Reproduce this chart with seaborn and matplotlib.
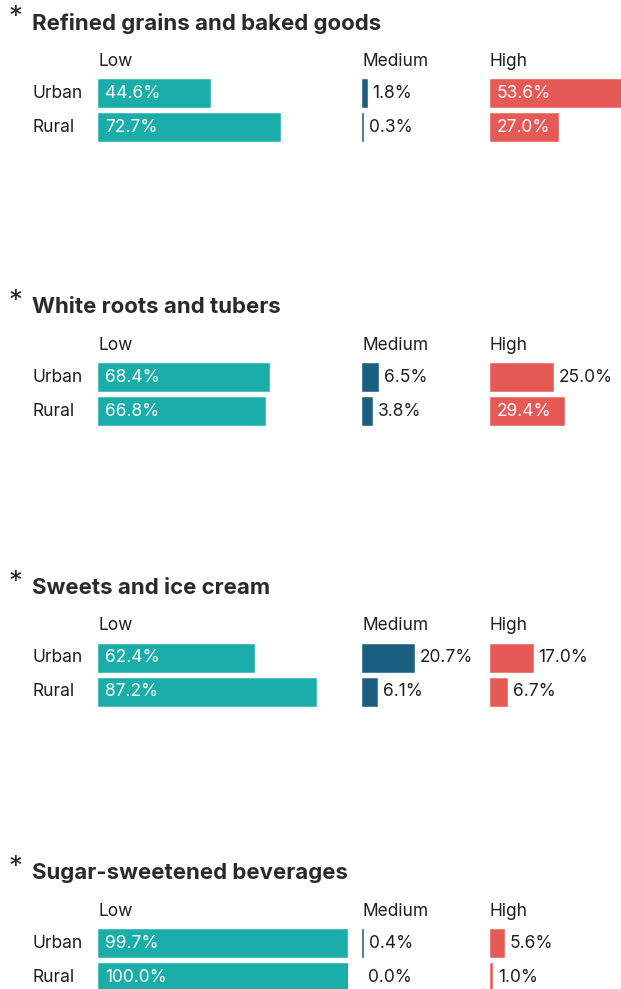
import matplotlib
matplotlib.use('Agg')
from matplotlib import pyplot as plt
import pandas as pd
import seaborn as sns

foods = ['Refined grains and baked goods', 'White roots and tubers',
         'Sweets and ice cream', 'Sugar-sweetened beverages']
areas = ['Urban', 'Rural']
levels = ['Low', 'Medium', 'High']

low_urban = [44.6, 68.4, 62.4, 99.7]
low_rural = [72.7, 66.8, 87.2, 100.0]
med_urban = [1.8, 6.5, 20.7, 0.4]
med_rural = [0.3, 3.8, 6.1, 0.0]
high_urban = [53.6, 25.0, 17.0, 5.6]
high_rural = [27.0, 29.4, 6.7, 1.0]

rows = []
for i, food in enumerate(foods):
    for level, urb, rur in [('Low', low_urban, low_rural),
                            ('Medium', med_urban, med_rural),
                            ('High', high_urban, high_rural)]:
        rows.append((food, level, 'Urban', urb[i]))
        rows.append((food, level, 'Rural', rur[i]))
df = pd.DataFrame(rows, columns=['food', 'level', 'area', 'pct'])

sns.set_style('white')
plt.rcParams['font.family'] = ['Inter', 'DejaVu Sans']

colors = {'Low': '#1aada9', 'Medium': '#1a5e80', 'High': '#e65a56'}
dark = '#1e1e1e'
fs = 12.5

W, H = 621, 989
px = 0.72  # points per pixel at dpi 100
col_left = {'Low': 98, 'Medium': 362, 'High': 490}
urban_y = [93, 377, 658, 943]   # pixel centre of the Urban bar per panel
row_gap = 34

fig = plt.figure(figsize=(W / 100, H / 100), dpi=100)

for i, food in enumerate(foods):
    yc = urban_y[i]
    top = yc - row_gap / 2
    for level in levels:
        ax = fig.add_axes([col_left[level] / W, 1 - (top + 2 * row_gap) / H,
                           250 / W, 2 * row_gap / H])
        sub = df[(df['food'] == food) & (df['level'] == level)]
        sns.barplot(data=sub, x='pct', y='area', order=areas, color=colors[level],
                    width=28 / row_gap, saturation=1, ax=ax, orient='h',
                    edgecolor=colors[level], linewidth=0.4)
        # no hairline for empty bars
        for p in ax.patches:
            if p.get_width() == 0:
                p.set_linewidth(0)
        ax.set_xlim(0, 100)
        ax.set_ylim(1.5, -0.5)
        ax.axis('off')

        for j, area in enumerate(areas):
            v = sub.loc[sub['area'] == area, 'pct'].iloc[0]
            if v >= 26:
                ax.annotate(f'{v:.1f}%', xy=(0, j), xytext=(7 * px, 0),
                            textcoords='offset points', ha='left', va='center',
                            color='white', fontsize=fs)
            else:
                ax.annotate(f'{v:.1f}%', xy=(v, j), xytext=(6 * px, 0),
                            textcoords='offset points', ha='left', va='center',
                            color=dark, fontsize=fs)
            if level == 'Low':
                ax.annotate(area, xy=(0, j), xycoords=('axes fraction', 'data'),
                            xytext=(-65 * px, 0), textcoords='offset points',
                            ha='left', va='center', color=dark, fontsize=fs)

        ax.annotate(level, xy=(0, 1), xycoords='axes fraction',
                    xytext=(0, 15 * px), textcoords='offset points',
                    ha='left', va='center', color=dark, fontsize=fs)

    ty = yc - 70
    fig.text(32 / W, 1 - ty / H, food, fontsize=16, fontweight='bold',
             color='#2a2a2a', ha='left', va='center')
    fig.text(9 / W, 1 - (ty - 5) / H, '*', fontsize=20, color='#2a2a2a',
             ha='left', va='center')

fig.savefig('out.png', dpi=100)
